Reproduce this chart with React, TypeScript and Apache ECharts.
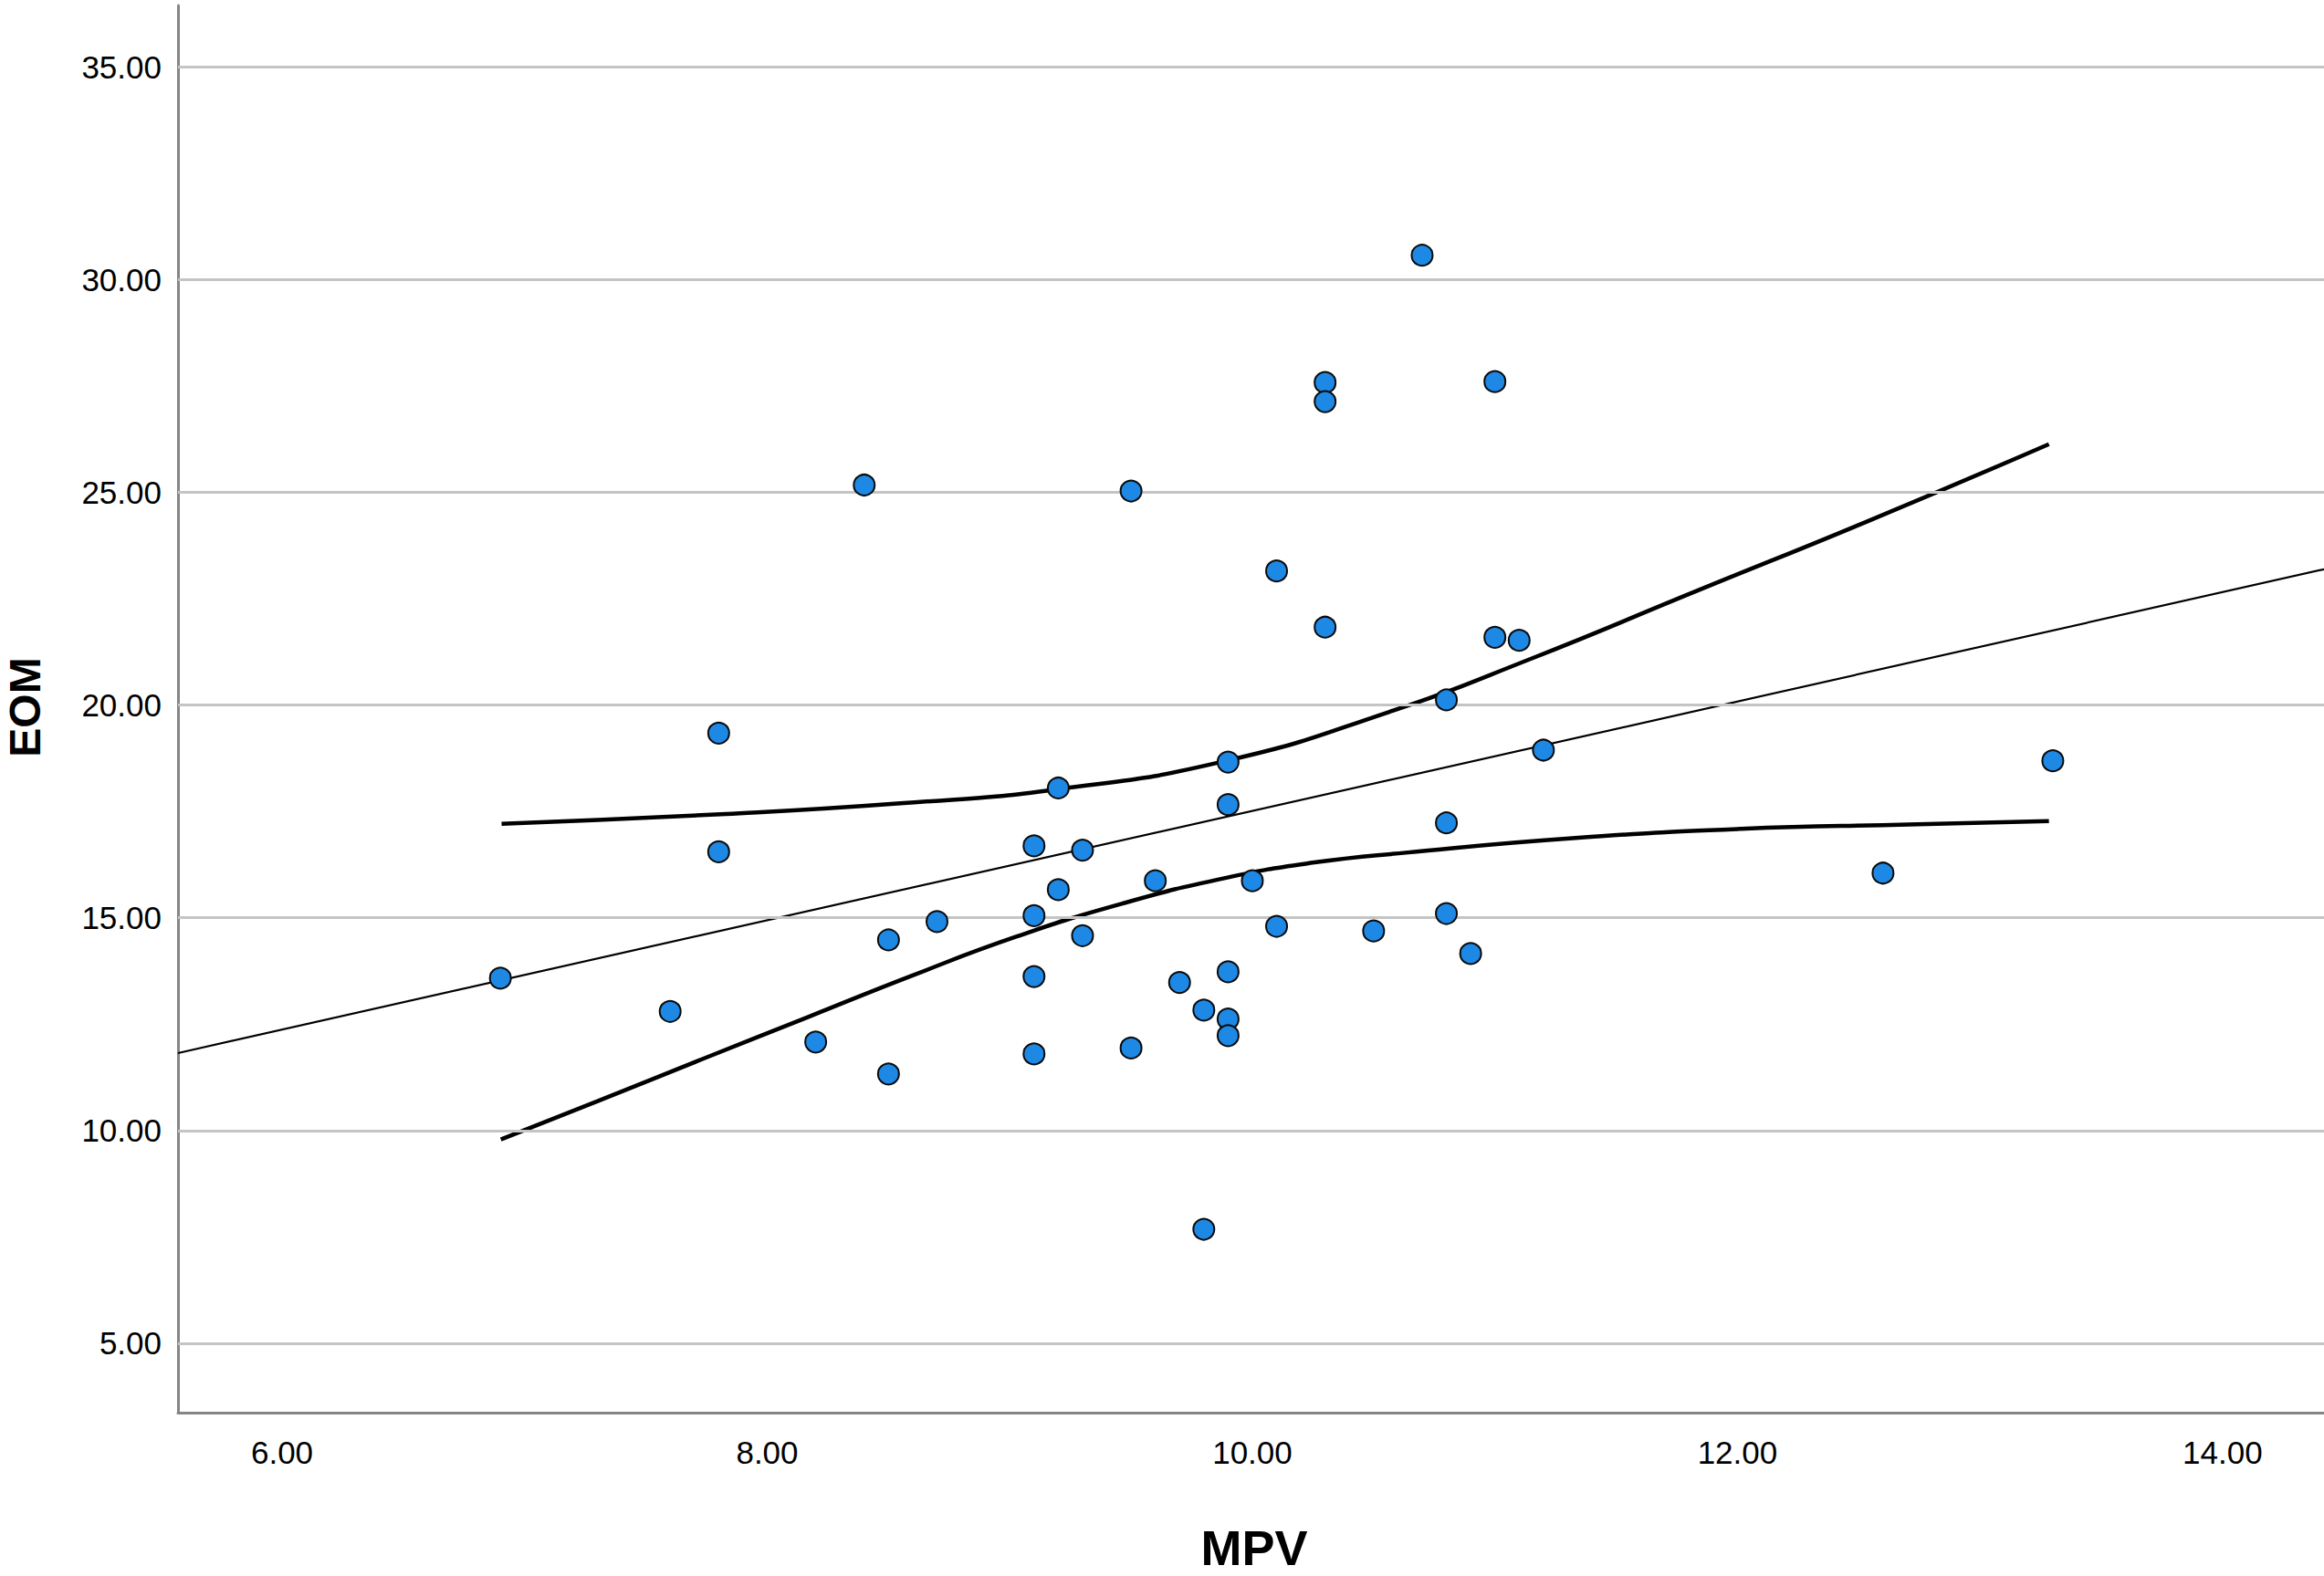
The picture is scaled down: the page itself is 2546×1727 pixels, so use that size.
import React, { useEffect, useRef } from "react";
import * as echarts from "echarts";

// ---- data ----
const mpv: number[] = [
  6.9, 7.6, 7.8, 7.8, 8.2, 8.4, 8.5, 8.5, 8.7, 9.1, 9.1, 9.1, 9.1, 9.2, 9.2, 9.3,
  9.3, 9.5, 9.5, 9.6, 9.7, 9.8, 9.8, 9.9, 9.9, 9.9, 9.9, 9.9, 10.0, 10.1, 10.1,
  10.3, 10.3, 10.3, 10.5, 10.7, 10.8, 10.8, 10.8, 10.9, 11.0, 11.0, 11.1, 11.2,
  12.6, 13.3,
];
const eom: number[] = [
  13.58, 12.8, 19.34, 16.55, 12.08, 25.17, 14.48, 11.33, 14.91, 16.69, 15.05,
  13.62, 11.8, 18.05, 15.66, 16.59, 14.58, 25.03, 11.94, 15.87, 13.48, 12.83,
  7.68, 18.66, 17.66, 13.73, 12.62, 12.23, 15.87, 23.15, 14.8, 27.58, 27.13,
  21.83, 14.69, 30.57, 20.12, 17.23, 15.1, 14.16, 27.6, 21.59, 21.52, 18.94,
  16.05, 18.69,
];

// linear fit line (endpoints at plot edges)
const fitX: number[] = [5.571, 14.418];
const fitY: number[] = [11.82, 23.19];

// 95% CI for the mean
const upperX: number[] = [6.905, 7.829, 8.549, 9.197, 9.893, 10.565, 11.15, 11.84, 12.533, 13.284];
const upperY: number[] = [17.21, 17.44, 17.69, 18.02, 18.69, 19.84, 21.09, 22.7, 24.31, 26.13];
const lowerX: number[] = [6.902, 7.301, 7.733, 8.165, 8.597, 9.029, 9.461, 9.893, 10.256, 10.632, 11.32, 12.015, 12.705, 13.284];
const lowerY: number[] = [9.79, 10.69, 11.68, 12.66, 13.64, 14.56, 15.33, 15.94, 16.3, 16.53, 16.87, 17.09, 17.19, 17.27];

const xTicks: number[] = [6, 8, 10, 12, 14];
const yTicks: number[] = [5, 10, 15, 20, 25, 30, 35];
const xTitle = "MPV";
const yTitle = "EOM";

const zip = (a: number[], b: number[]) => a.map((v, i) => [v, b[i]]);

const tickFont = "'Liberation Sans', Arial, sans-serif";
const titleFont = "'Liberation Sans', Arial, sans-serif";

export default function App() {
  const ref = useRef<HTMLDivElement>(null);
  useEffect(() => {
    if (!ref.current) return;
    const chart = echarts.init(ref.current, undefined, { renderer: "svg" });
    chart.setOption({
      animation: false,
      backgroundColor: "#ffffff",
      grid: { left: 195, right: 0, top: 6, bottom: 179, containLabel: false },
      xAxis: {
        type: "value",
        min: 5.571,
        max: 14.418,
        axisLine: { show: true, lineStyle: { color: "#858585", width: 3 } },
        axisTick: { show: false },
        splitLine: { show: false },
        axisLabel: {
          customValues: xTicks,
          formatter: (v: number) => v.toFixed(2),
          color: "#000",
          fontFamily: tickFont,
          fontSize: 35,
          margin: 26,
        },
      },
      yAxis: {
        type: "value",
        min: 3.37,
        max: 36.44,
        axisLine: { show: true, lineStyle: { color: "#858585", width: 3 } },
        axisTick: { show: false },
        splitLine: { show: false },
        axisLabel: {
          customValues: yTicks,
          formatter: (v: number) => v.toFixed(2),
          color: "#000",
          fontFamily: tickFont,
          fontSize: 35,
          margin: 18,
        },
      },
      graphic: [
        {
          type: "text",
          x: 27,
          y: 775,
          rotation: Math.PI / 2,
          style: {
            text: yTitle,
            fontFamily: titleFont,
            fontWeight: "bold",
            fontSize: 48,
            fill: "#000",
            align: "center",
            verticalAlign: "middle",
          },
        },
        {
          type: "text",
          x: 1374,
          y: 1696,
          style: {
            text: xTitle,
            fontFamily: titleFont,
            fontWeight: "bold",
            fontSize: 54,
            fill: "#000",
            align: "center",
            verticalAlign: "middle",
          },
        },
      ],
      series: [
        {
          type: "line",
          data: [],
          z: 1,
          silent: true,
          markLine: {
            silent: true,
            symbol: "none",
            label: { show: false },
            lineStyle: { color: "#c4c4c4", width: 3, type: "solid" },
            data: yTicks.map((v) => ({ yAxis: v })),
          },
        },
        {
          type: "line",
          data: zip(fitX, fitY),
          showSymbol: false,
          symbol: "none",
          z: 3,
          lineStyle: { color: "#000", width: 2.2 },
        },
        {
          type: "line",
          data: zip(upperX, upperY),
          smooth: 0.5,
          showSymbol: false,
          symbol: "none",
          z: 3,
          lineStyle: { color: "#000", width: 4.5 },
        },
        {
          type: "line",
          data: zip(lowerX, lowerY),
          smooth: 0.5,
          showSymbol: false,
          symbol: "none",
          z: 3,
          lineStyle: { color: "#000", width: 4.5 },
        },
        {
          type: "scatter",
          data: zip(mpv, eom),
          symbol: "circle",
          symbolSize: 23,
          z: 5,
          itemStyle: { color: "#1E88E5", borderColor: "#0a0a0a", borderWidth: 2, opacity: 1 },
        },
      ],
    });
    return () => chart.dispose();
  }, []);
  return (
    <div
      ref={ref}
      style={{ position: "fixed", left: 0, top: 0, width: 2546, height: 1727, background: "#fff" }}
    />
  );
}
